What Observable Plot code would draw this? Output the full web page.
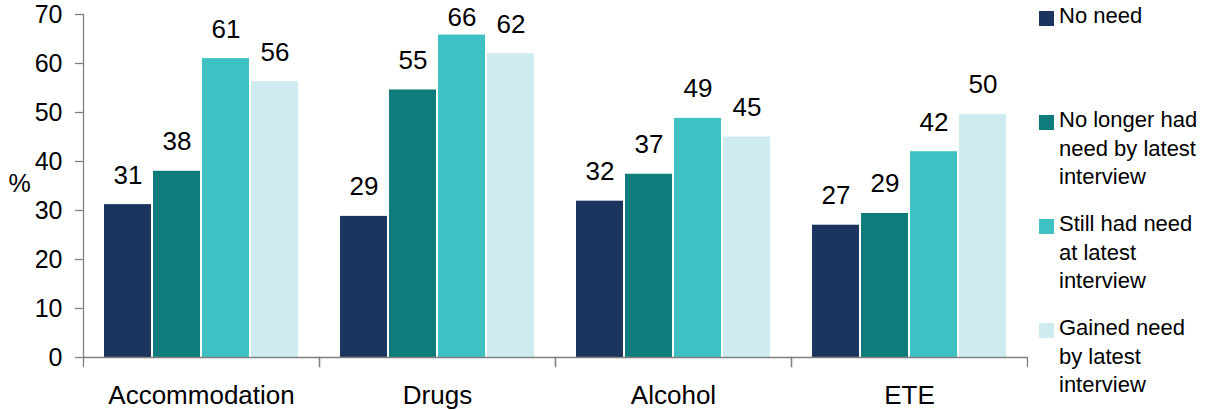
<!DOCTYPE html>
<html>
<head>
<meta charset="utf-8">
<script src="https://cdn.jsdelivr.net/npm/d3@7"></script>
<script src="https://cdn.jsdelivr.net/npm/@observablehq/plot@0.6"></script>
<style>
  html, body { margin: 0; padding: 0; background: #fff; }
  #wrap { position: relative; width: 1208px; height: 410px; font-family: "Liberation Sans", Arial, sans-serif; }
  #chart { position: absolute; left: 0; top: 0; }
  #legend { position: absolute; left: 1039px; top: 2px; }
  .item { position: relative; height: 104px; }
  .sw { position: absolute; left: 0; top: 9px; width: 15px; height: 15px; }
  .lab { position: absolute; left: 20px; top: 0; font-size: 22px; line-height: 28.5px; white-space: nowrap; color: #000; }
</style>
</head>
<body>
<div id="wrap">
  <div id="chart"></div>
  <div id="legend"></div>
</div>
<script>
const categories = ["Accommodation", "Drugs", "Alcohol", "ETE"];
const series = [
  "No need",
  "No longer had need by latest interview",
  "Still had need at latest interview",
  "Gained need by latest interview"
];
const legendLines = [
  ["No need"],
  ["No longer had", "need by latest", "interview"],
  ["Still had need", "at latest", "interview"],
  ["Gained need", "by latest", "interview"]
];
const noNeed   = [31.2, 28.8, 31.9, 27.0];
const noLonger = [38.0, 54.6, 37.4, 29.4];
const stillHad = [61.0, 65.8, 48.8, 42.0];
const gained   = [56.3, 62.0, 45.0, 49.6];
const yTicks = [0, 10, 20, 30, 40, 50, 60, 70];
const colors = ["#1b355f", "#0d7c7b", "#3dc1c2", "#ceebf0"];

const seriesValues = [noNeed, noLonger, stillHad, gained];
const rows = [];
categories.forEach((c, i) => {
  series.forEach((s, j) => rows.push({category: c, series: s, value: seriesValues[j][i]}));
});
const fmt = d3.format(".0f");
const labelCap = 63.4; // keep the tallest label inside the frame, as the original does

const axisColor = "#808080";
const chart = Plot.plot({
  width: 1208,
  height: 410,
  marginLeft: 81,
  marginRight: 180,
  marginTop: 14,
  marginBottom: 53,
  style: {fontFamily: "'Liberation Sans', Arial, sans-serif", background: "white", color: "#000"},
  fx: {domain: categories, padding: 0, label: null},
  x: {domain: series, paddingInner: 0, paddingOuter: 0.3675, axis: null},
  y: {domain: [0, 70], axis: null},
  color: {domain: series, range: colors},
  marks: [
    Plot.barY(rows, {fx: "category", x: "series", y: "value", fill: "series", insetLeft: 1, insetRight: 1}),
    Plot.text(rows, {fx: "category", x: "series", y: d => Math.min(d.value, labelCap), text: d => fmt(d.value), lineAnchor: "bottom", dy: -21, fontSize: 26, fill: "#000"}),
    Plot.ruleY([0], {stroke: axisColor, strokeWidth: 1.3}),
    Plot.frame({anchor: "left", insetTop: 343, insetBottom: -9, stroke: axisColor, strokeWidth: 1.3}),
    Plot.frame({anchor: "right", insetTop: 343, insetBottom: -9, stroke: axisColor, strokeWidth: 1.3}),
    Plot.frame({anchor: "left", fx: [categories[0]], stroke: axisColor, strokeWidth: 1.3}),
    Plot.axisY({ticks: yTicks, tickSize: 8, tickPadding: 13, fontSize: 25, label: null, stroke: axisColor, fill: "#000", strokeWidth: 1.3}),
    Plot.axisFx({anchor: "bottom", tickSize: 0, tickPadding: 28, fontSize: 26, label: null, fill: "#000"}),
    Plot.text([categories[0]], {fx: d => d, text: () => "%", frameAnchor: "left", textAnchor: "middle", dx: -64, dy: -2, fontSize: 25, fill: "#000"})
  ]
});
document.getElementById("chart").appendChild(chart);

const legend = document.getElementById("legend");
series.forEach((s, j) => {
  const item = document.createElement("div");
  item.className = "item";
  const sw = document.createElement("div");
  sw.className = "sw";
  sw.style.background = colors[j];
  const lab = document.createElement("div");
  lab.className = "lab";
  lab.innerHTML = legendLines[j].join("<br>");
  item.appendChild(sw);
  item.appendChild(lab);
  legend.appendChild(item);
});
</script>
</body>
</html>
